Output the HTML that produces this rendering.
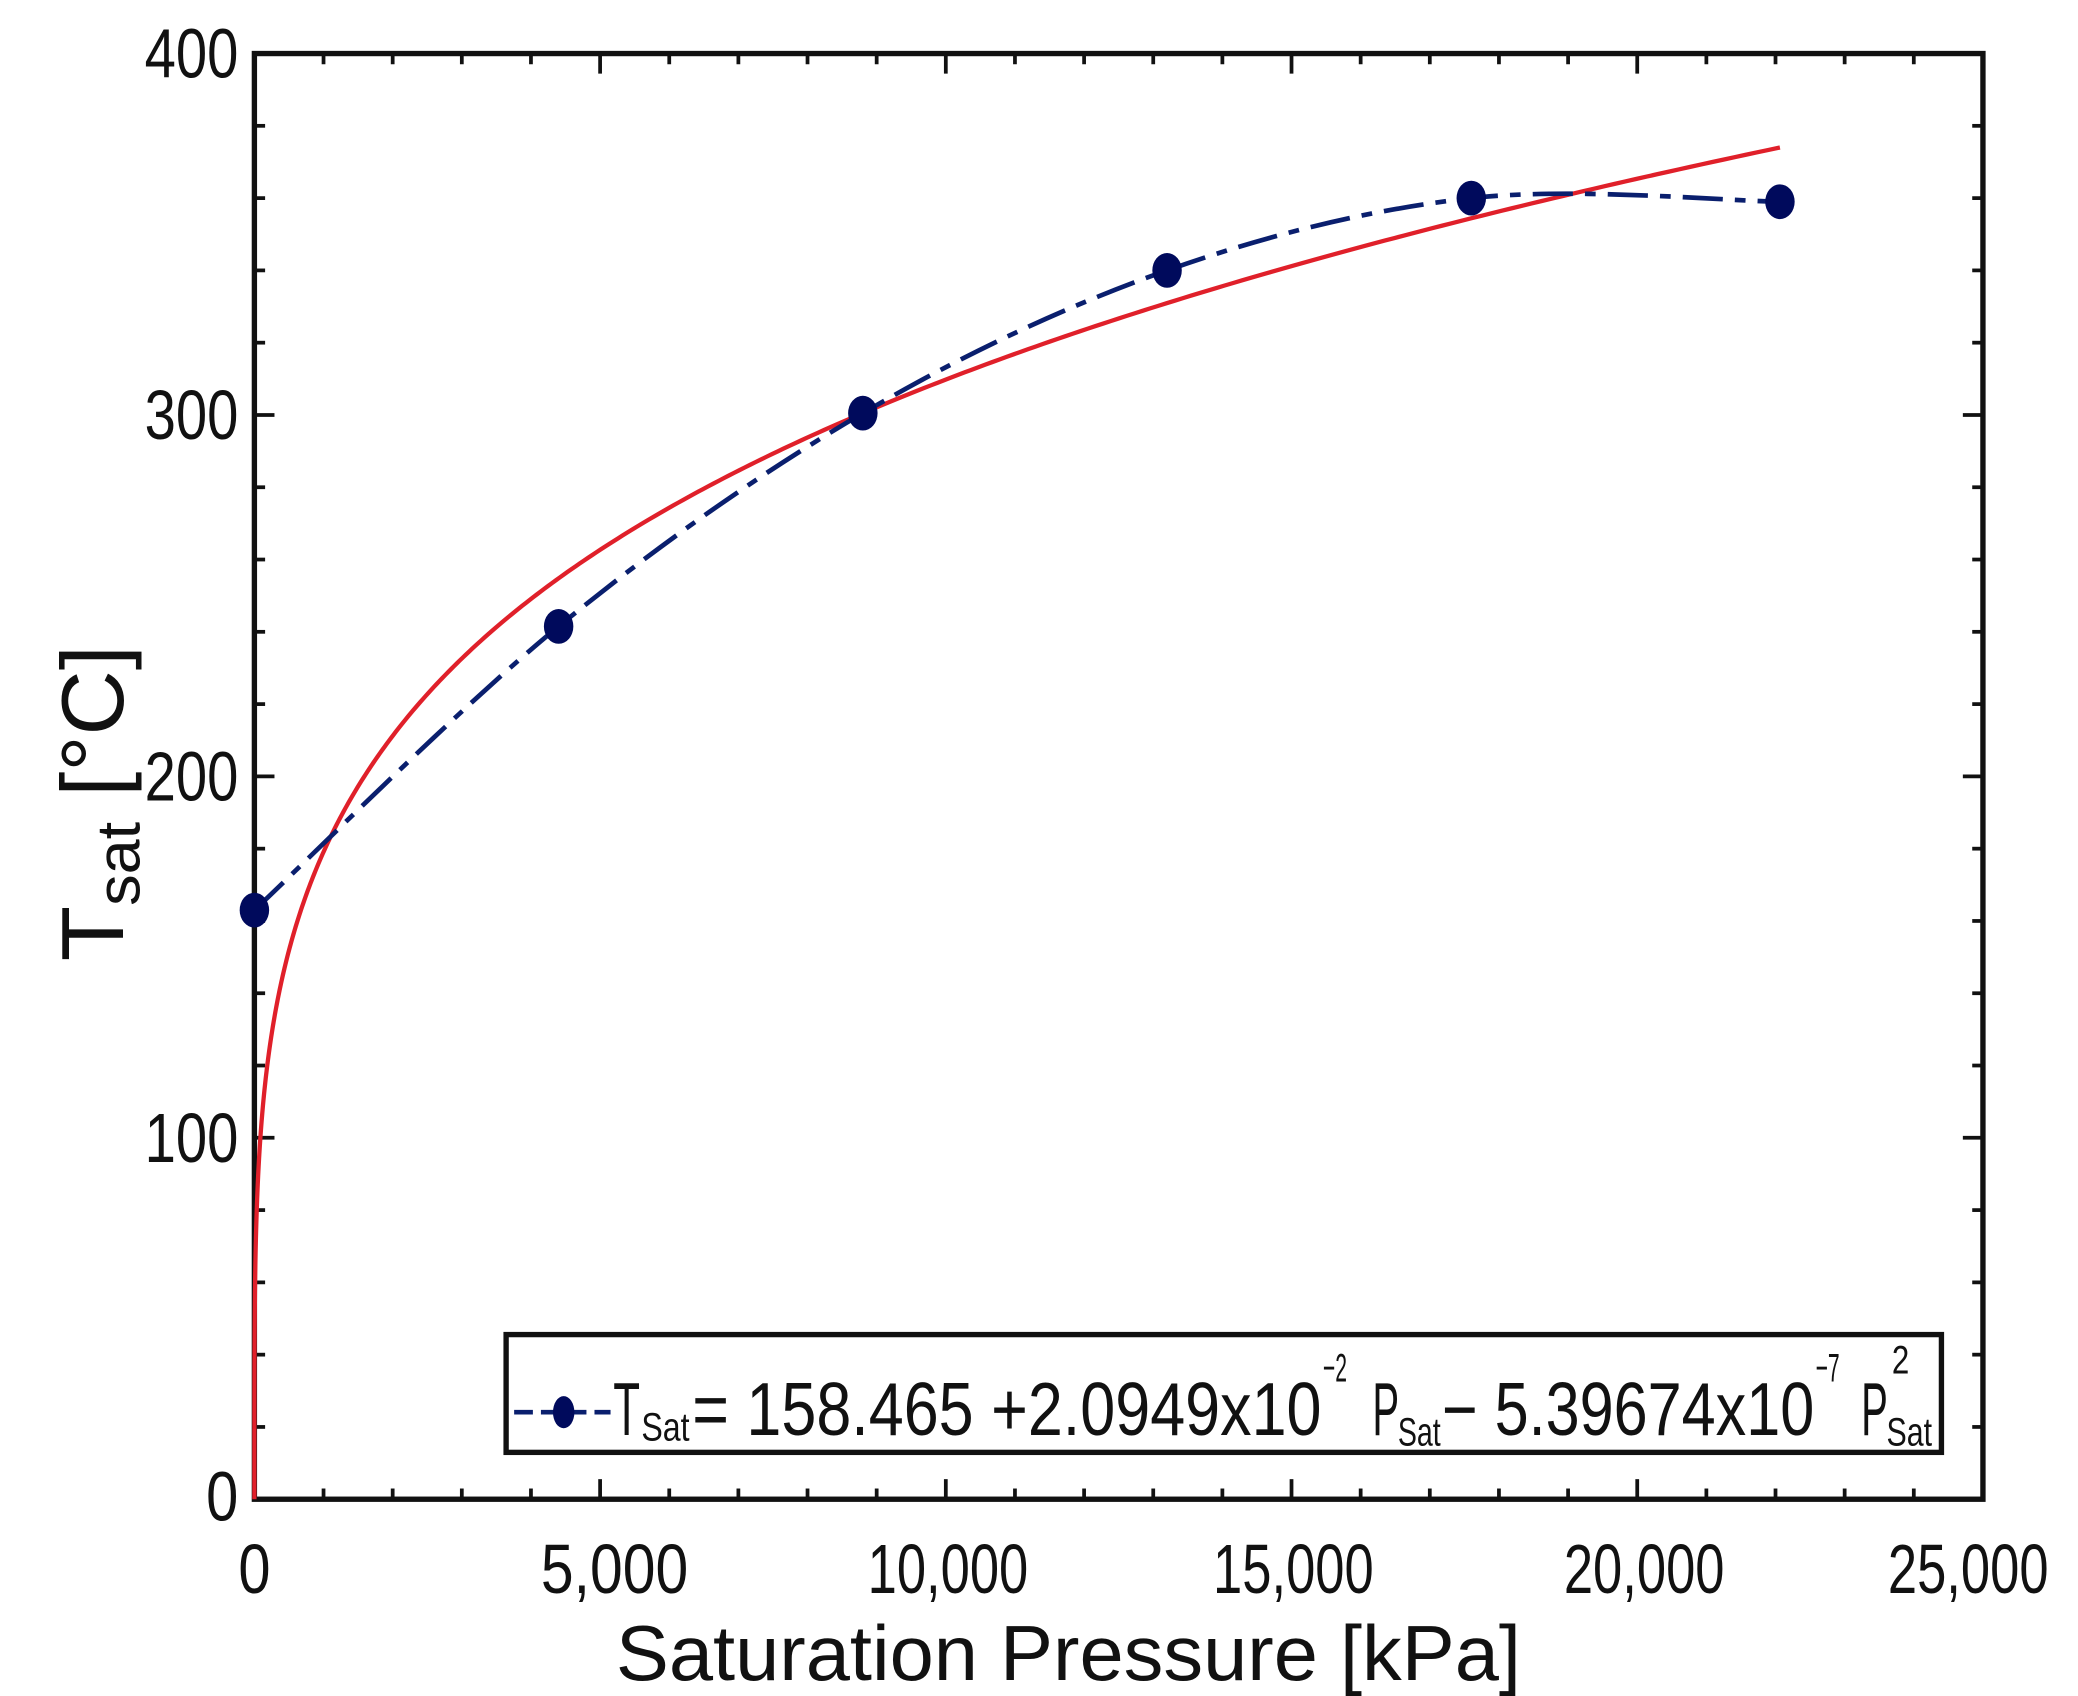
<!DOCTYPE html>
<html><head><meta charset="utf-8"><style>
html,body{margin:0;padding:0;background:#fff;}
svg{display:block;}
text{font-family:"Liberation Sans",sans-serif;fill:#111;}
</style></head><body>
<svg id="s" width="2078" height="1696" viewBox="0 0 1552 1267" preserveAspectRatio="none" xmlns="http://www.w3.org/2000/svg">
<g id="ticks" stroke="#111" stroke-width="2.8"></g>
<rect x="190" y="40" width="1291" height="1080" fill="none" stroke="#111" stroke-width="4"/>
<path id="red" fill="none" stroke="#e0202a" stroke-width="3.2"/>
<path id="blue" fill="none" stroke="#0a1f6e" stroke-width="3.5" stroke-dasharray="30,9,8,9"/>
<g id="pts" fill="#000a5c"></g>
<g font-size="52" text-anchor="end">
<text x="178" y="58" textLength="70" lengthAdjust="spacingAndGlyphs">400</text>
<text x="178" y="328" textLength="70" lengthAdjust="spacingAndGlyphs">300</text>
<text x="178" y="598" textLength="70" lengthAdjust="spacingAndGlyphs">200</text>
<text x="178" y="868" textLength="70" lengthAdjust="spacingAndGlyphs">100</text>
<text x="178" y="1136" textLength="24" lengthAdjust="spacingAndGlyphs">0</text>
</g>
<g font-size="52" text-anchor="middle">
<text x="190" y="1190" textLength="24" lengthAdjust="spacingAndGlyphs">0</text>
<text x="459" y="1190" textLength="110" lengthAdjust="spacingAndGlyphs">5,000</text>
<text x="708" y="1190" textLength="120" lengthAdjust="spacingAndGlyphs">10,000</text>
<text x="966" y="1190" textLength="120" lengthAdjust="spacingAndGlyphs">15,000</text>
<text x="1228" y="1190" textLength="120" lengthAdjust="spacingAndGlyphs">20,000</text>
<text x="1470" y="1190" textLength="120" lengthAdjust="spacingAndGlyphs">25,000</text>
</g>
<text x="798" y="1255" font-size="58" text-anchor="middle" textLength="676" lengthAdjust="spacingAndGlyphs">Saturation Pressure [kPa]</text>
<g transform="translate(92,600) rotate(-90)">
<text x="0" y="0" font-size="66" text-anchor="middle" textLength="236" lengthAdjust="spacingAndGlyphs">T<tspan font-size="46" dy="12">sat</tspan><tspan dy="-12"> [°C]</tspan></text>
</g>
<rect x="378" y="997" width="1072" height="88" fill="#fff" stroke="#111" stroke-width="4"/>
<line x1="384" y1="1055" x2="456" y2="1055" stroke="#0a1f6e" stroke-width="3.5" stroke-dasharray="14,6"/>
<ellipse cx="421" cy="1055" rx="8" ry="12" fill="#000a5c"/>
<g font-size="56">
<text x="458" y="1072" textLength="20" lengthAdjust="spacingAndGlyphs">T</text>
<text x="479" y="1076" font-size="30" textLength="36" lengthAdjust="spacingAndGlyphs">Sat</text>
<text x="517" y="1072" textLength="470" lengthAdjust="spacingAndGlyphs">= 158.465 +2.0949x10</text>
<text x="988" y="1032" font-size="30" textLength="18" lengthAdjust="spacingAndGlyphs">−2</text>
<text x="1025" y="1072" textLength="20" lengthAdjust="spacingAndGlyphs">P</text>
<text x="1044" y="1080" font-size="30" textLength="32" lengthAdjust="spacingAndGlyphs">Sat</text>
<text x="1077" y="1072" textLength="278" lengthAdjust="spacingAndGlyphs">− 5.39674x10</text>
<text x="1356" y="1032" font-size="30" textLength="18" lengthAdjust="spacingAndGlyphs">−7</text>
<text x="1390" y="1072" textLength="20" lengthAdjust="spacingAndGlyphs">P</text>
<text x="1409" y="1080" font-size="30" textLength="34" lengthAdjust="spacingAndGlyphs">Sat</text>
<text x="1413" y="1026" font-size="30" textLength="13" lengthAdjust="spacingAndGlyphs">2</text>
</g>
</svg>
<script>
var X=function(p){return 190+p/5000*258.2;},Y=function(t){return 1120-t*2.7;};
var g=document.getElementById('ticks'),h='';
for(var i=0;i<=20;i++){var y=1120-i*54,L=(i%5==0)?15:8;h+='<line x1="190" y1="'+y+'" x2="'+(190+L)+'" y2="'+y+'"/><line x1="1481" y1="'+y+'" x2="'+(1481-L)+'" y2="'+y+'"/>';}
for(var i=0;i<=25;i++){var x=190+i*51.64,L=(i%5==0)?15:8;h+='<line x1="'+x+'" y1="1120" x2="'+x+'" y2="'+(1120-L)+'"/><line x1="'+x+'" y1="40" x2="'+x+'" y2="'+(40+L)+'"/>';}
g.innerHTML=h;
var d='M'+X(0)+','+Y(0);
for(var k=0;k<=400;k++){var p=Math.pow(k/400,3)*22064;if(p<=0)continue;var t=34.6*Math.pow(p,0.238);d+=' L'+X(p).toFixed(2)+','+Y(t).toFixed(2);}
document.getElementById('red').setAttribute('d',d);
var P=[[0,163],[4400,241.5],[8800,300.5],[13200,340],[17600,360],[22064,359]].map(function(a){return [X(a[0]),Y(a[1])];});
var b='M'+P[0][0]+','+P[0][1];
for(var i=0;i<P.length-1;i++){var p0=P[Math.max(0,i-1)],p1=P[i],p2=P[i+1],p3=P[Math.min(P.length-1,i+2)];
b+=' C'+(p1[0]+(p2[0]-p0[0])/6)+','+(p1[1]+(p2[1]-p0[1])/6)+' '+(p2[0]-(p3[0]-p1[0])/6)+','+(p2[1]-(p3[1]-p1[1])/6)+' '+p2[0]+','+p2[1];}
document.getElementById('blue').setAttribute('d',b);
var s='';P.forEach(function(q){s+='<ellipse cx="'+q[0]+'" cy="'+q[1]+'" rx="11" ry="13"/>';});
document.getElementById('pts').innerHTML=s;
</script>
</body></html>
